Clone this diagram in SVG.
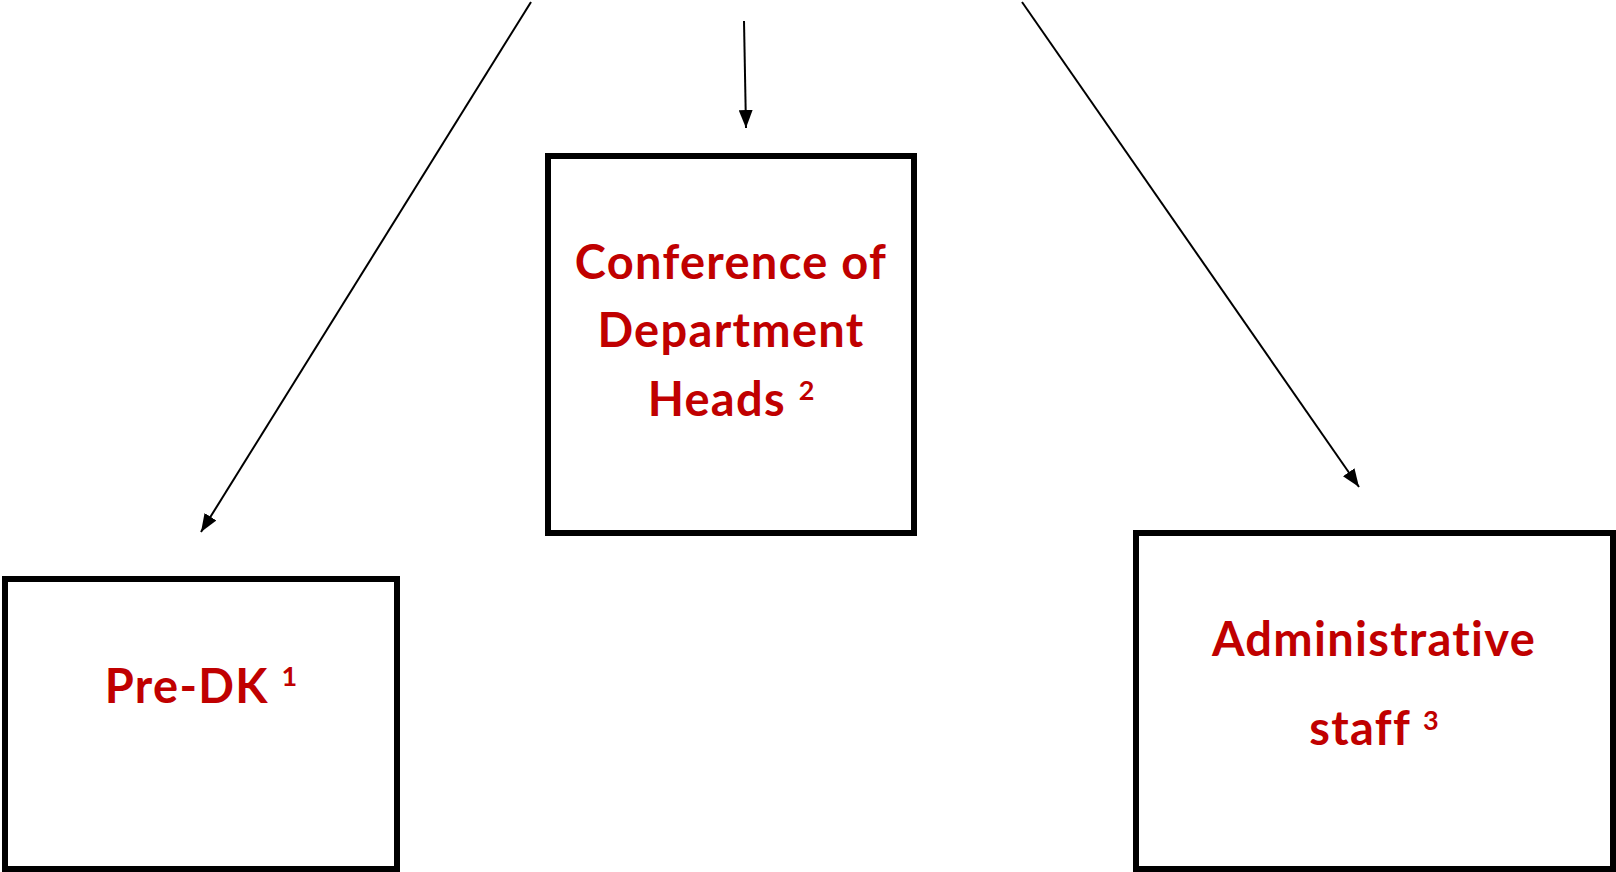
<svg xmlns="http://www.w3.org/2000/svg" width="1616" height="872" viewBox="0 0 1616 872">
<style>
.box{fill:#ffffff;stroke:#000000;stroke-width:6}
.lbl{font-family:Lato,"Open Sans","Liberation Sans",sans-serif;font-weight:bold;font-size:47px;letter-spacing:1.3px;fill:#C00000;text-anchor:middle;font-variant-ligatures:none}
.sup{font-size:27px;letter-spacing:0}
.conn{stroke:#000000;stroke-width:2;fill:none}
</style>
<defs>
<marker id="arr" viewBox="0 0 18 14" refX="18" refY="7" markerWidth="18" markerHeight="14" markerUnits="userSpaceOnUse" orient="auto">
<path d="M0,0 L18,7 L0,14 z" fill="#000000"/>
</marker>
</defs>
<rect width="1616" height="872" fill="#ffffff"/>
<g id="connectors">
<line class="conn" x1="531" y1="2" x2="201" y2="532" marker-end="url(#arr)"/>
<line class="conn" x1="744" y1="21" x2="746" y2="128" marker-end="url(#arr)"/>
<line class="conn" x1="1022" y1="2" x2="1359" y2="487" marker-end="url(#arr)"/>
</g>
<g id="node-predk">
<rect class="box" x="5" y="579" width="392" height="290"/>
<text class="lbl" x="201" y="703">Pre-DK <tspan class="sup" dy="-17">1</tspan></text>
</g>
<g id="node-conference">
<rect class="box" x="548" y="156" width="366" height="377"/>
<text class="lbl" x="731" y="279">Conference of</text>
<text class="lbl" x="731" y="347">Department</text>
<text class="lbl" x="731" y="416">Heads <tspan class="sup" dy="-16">2</tspan></text>
</g>
<g id="node-admin">
<rect class="box" x="1136" y="533" width="477" height="336"/>
<text class="lbl" x="1374" y="656">Administrative</text>
<text class="lbl" x="1374" y="745">staff <tspan class="sup" dy="-15">3</tspan></text>
</g>
</svg>
